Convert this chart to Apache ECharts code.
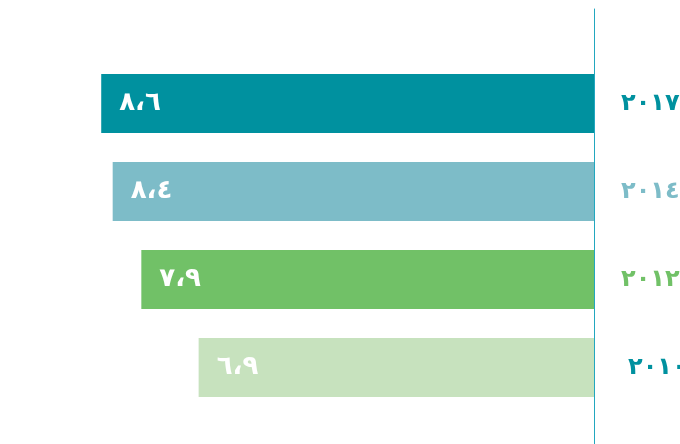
<!DOCTYPE html>
<html>
<head>
<meta charset="utf-8">
<script src="https://cdn.jsdelivr.net/npm/echarts@6/dist/echarts.min.js"></script>
<style>html,body{margin:0;padding:0;background:#fff;}#c{width:680px;height:444px;}</style>
</head>
<body>
<div id="c"></div>
<script>
var categories = ['٢٠١٧', '٢٠١٤', '٢٠١٢', '٢٠١٠'];
var values = [8.6, 8.4, 7.9, 6.9];
var valueLabels = ['٨،٦', '٨،٤', '٧،٩', '٦،٩'];
var barColors = ['#00919f', '#7dbcc8', '#71c167', '#c7e2be'];
var labelColors = ['#00919f', '#7dbcc8', '#71c167', '#00919f'];

var FONT = 'DejaVu Sans';
var chart = echarts.init(document.getElementById('c'));
var rich = {};
labelColors.forEach(function (c, i) {
  rich['c' + i] = { color: c, fontSize: 24, fontWeight: 'bold', fontFamily: FONT, padding: [0, 0, 0, i === 3 ? 7 : 0] };
});
chart.setOption({
  animation: false,
  grid: [
    { left: 21, right: 86, top: 59.5, bottom: 32.5, outerBoundsMode: 'none', containLabel: false },
    { left: 21, right: 86, top: 9, bottom: 0, outerBoundsMode: 'none', containLabel: false }
  ],
  xAxis: [
    { type: 'value', inverse: true, min: 0, max: 10, show: false, gridIndex: 0 },
    { type: 'value', min: 0, max: 1, show: false, gridIndex: 1 }
  ],
  yAxis: [
    {
      type: 'category', data: categories, inverse: true, position: 'right', gridIndex: 0,
      axisLine: { show: false }, axisTick: { show: false },
      axisLabel: {
        margin: 27, align: 'left',
        formatter: function (v) { var i = categories.indexOf(v); return '{c' + i + '|' + v + '}'; },
        rich: rich
      }
    },
    {
      type: 'value', gridIndex: 1, position: 'right', min: 0, max: 1,
      axisLine: { show: true, onZero: false, lineStyle: { color: '#22a7bf', width: 1 } },
      axisTick: { show: false }, axisLabel: { show: false }, splitLine: { show: false }
    }
  ],
  series: [{
    type: 'bar', xAxisIndex: 0, yAxisIndex: 0, barWidth: 59,
    data: values.map(function (v, i) { return { value: v, itemStyle: { color: barColors[i] } }; }),
    label: {
      show: true, position: 'insideLeft', distance: 18,
      color: '#fff', fontSize: 26, fontWeight: 'bold', fontFamily: FONT,
      formatter: function (p) { return valueLabels[p.dataIndex]; }
    }
  }]
});
</script>
</body>
</html>
